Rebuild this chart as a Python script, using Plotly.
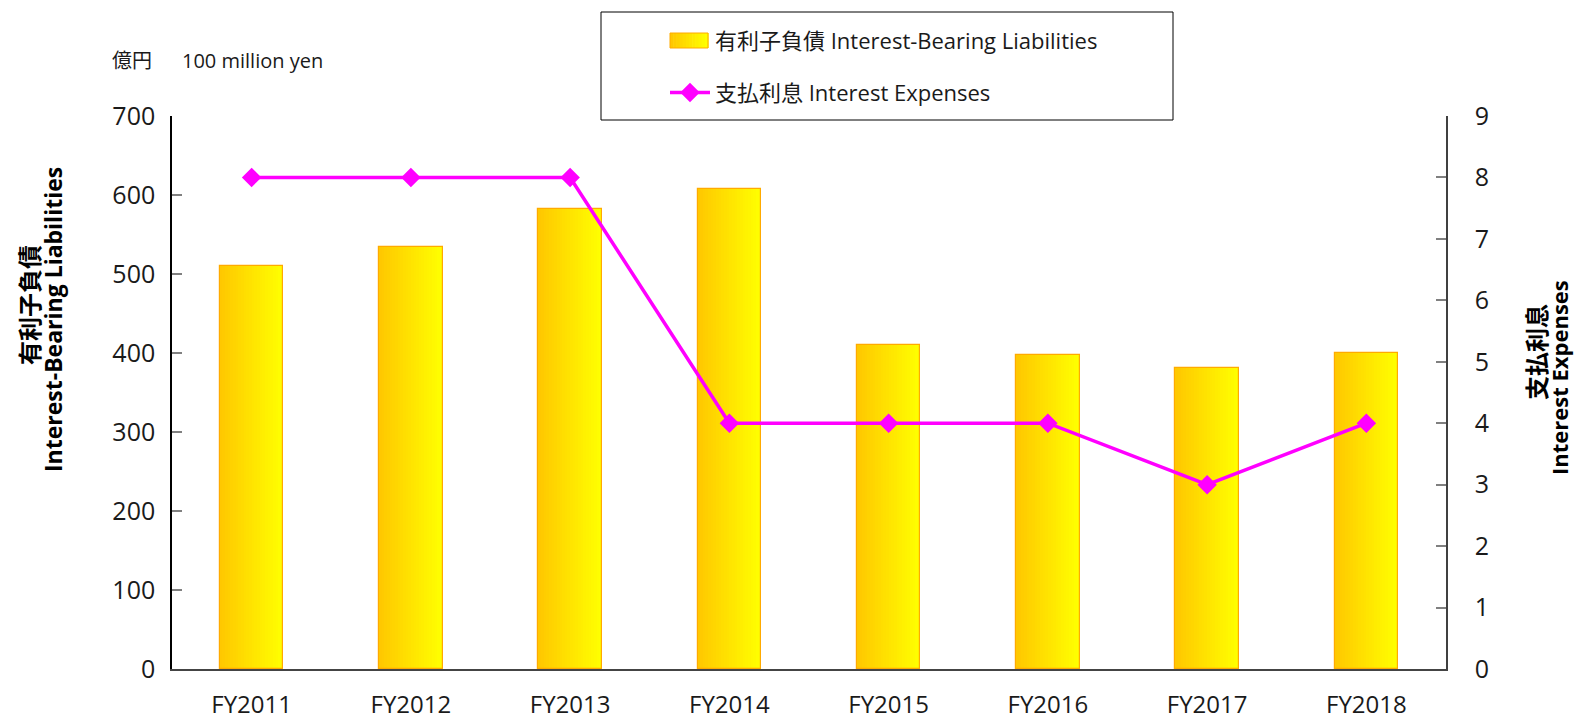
import plotly.graph_objects as go

categories = ["FY2011", "FY2012", "FY2013", "FY2014", "FY2015", "FY2016", "FY2017", "FY2018"]
liabilities = [510, 534, 582, 607, 410, 397, 381, 400]
interest_expenses = [8, 8, 8, 4, 4, 4, 3, 4]

FONT = "Open Sans, Noto Sans CJK JP, sans-serif"
BAR_W = 0.4
N_SLICES = 24
c0 = (255, 200, 0)
c1 = (255, 255, 0)

# plot area in page pixels
PL, PR, PT, PB = 172, 1446, 116, 669
PW, PH = PR - PL, PB - PT


def px_x(x):
    return (x - PL) / PW


def px_y(y):
    return (PB - y) / PH


def grad(t):
    return "rgb({},{},{})".format(*[round(a + (b - a) * t) for a, b in zip(c0, c1)])


fig = go.Figure()

# gradient slices
for i in range(N_SLICES):
    w = BAR_W / N_SLICES
    fig.add_trace(go.Bar(
        x=categories, y=liabilities,
        width=w * (1.15 if i < N_SLICES - 1 else 1.0),
        offset=-BAR_W / 2 + i * w,
        marker=dict(color=grad(i / (N_SLICES - 1)), line=dict(width=0)),
        showlegend=False, hoverinfo="skip",
    ))

# outline
fig.add_trace(go.Bar(
    x=categories, y=liabilities, width=BAR_W,
    marker=dict(color="rgba(0,0,0,0)", line=dict(color="#FFAA00", width=1.2)),
    showlegend=False,
))

# legend entry for bars (swatch drawn as shapes)
fig.add_trace(go.Bar(
    x=categories, y=liabilities, width=BAR_W,
    name="有利子負債 Interest-Bearing Liabilities",
    marker=dict(color="rgba(0,0,0,0)", line=dict(width=0)),
    legendgroup="a", legendrank=1, hoverinfo="skip",
))

fig.add_trace(go.Scatter(
    x=categories, y=interest_expenses, yaxis="y2",
    name="支払利息 Interest Expenses",
    mode="lines+markers",
    line=dict(color="#FF00FF", width=3.5),
    marker=dict(symbol="diamond", size=15, color="#FF00FF"),
    legendgroup="b", legendrank=2,
))

shapes = [dict(
    type="rect", xref="paper", yref="paper",
    x0=px_x(601), x1=px_x(1173), y0=px_y(120), y1=px_y(12),
    line=dict(color="black", width=1), fillcolor="rgba(0,0,0,0)", layer="above",
)]
# gradient legend swatch
SW_X0, SW_X1, SW_Y0, SW_Y1 = 670, 708, 33, 48
n_sw = 12
for i in range(n_sw):
    xa = SW_X0 + (SW_X1 - SW_X0) * i / n_sw
    xb = SW_X0 + (SW_X1 - SW_X0) * (i + 1) / n_sw
    shapes.append(dict(
        type="rect", xref="paper", yref="paper",
        x0=px_x(xa), x1=px_x(xb + 0.6), y0=px_y(SW_Y1), y1=px_y(SW_Y0),
        line=dict(width=0), fillcolor=grad(i / (n_sw - 1)), layer="above",
    ))
shapes.append(dict(
    type="rect", xref="paper", yref="paper",
    x0=px_x(SW_X0), x1=px_x(SW_X1), y0=px_y(SW_Y1), y1=px_y(SW_Y0),
    line=dict(color="#FFAA00", width=1), fillcolor="rgba(0,0,0,0)", layer="above",
))


def vtitle(text, x, y, size=22):
    return dict(text="<b>" + text + "</b>", textangle=-90,
                xref="paper", yref="paper", x=px_x(x), y=px_y(y),
                xanchor="center", yanchor="middle", showarrow=False,
                font=dict(size=size, family=FONT, color="black"))


fig.update_layout(
    width=1575, height=720,
    margin=dict(l=PL, r=1575 - PR, t=PT, b=720 - PB, autoexpand=False),
    paper_bgcolor="white", plot_bgcolor="white",
    barmode="overlay", bargap=0,
    font=dict(family=FONT, color="#1a1a1a"),
    showlegend=True,
    legend=dict(
        x=px_x(665), y=px_y(20),
        xanchor="left", yanchor="top",
        bgcolor="rgba(0,0,0,0)", borderwidth=0,
        font=dict(size=22, family=FONT, color="#1a1a1a"),
        traceorder="grouped", tracegroupgap=20, itemwidth=40,
    ),
    xaxis=dict(
        type="category", showgrid=False, ticks="",
        showline=True, linecolor="#444444", linewidth=1.5,
        tickfont=dict(size=24, family=FONT, color="#1a1a1a"),
        ticklabelstandoff=13,
    ),
    yaxis=dict(
        range=[0, 700], dtick=100, showgrid=False, zeroline=False,
        showline=True, linecolor="black", linewidth=1.5,
        ticks="inside", ticklen=10, tickwidth=2, tickcolor="#808080",
        tickfont=dict(size=25, family=FONT, color="#1a1a1a"),
        ticklabelstandoff=10,
    ),
    yaxis2=dict(
        range=[0, 9], dtick=1, overlaying="y", side="right", anchor="x",
        showgrid=False, zeroline=False,
        showline=True, linecolor="#404040", linewidth=1.5,
        ticks="inside", ticklen=10, tickwidth=2, tickcolor="#808080",
        tickfont=dict(size=25, family=FONT, color="#1a1a1a"),
        ticklabelstandoff=22,
    ),
    shapes=shapes,
    annotations=[
        vtitle("有利子負債", 29, 305, 24),
        vtitle("Interest-Bearing Liabilities", 53, 320, 23),
        vtitle("支払利息", 1536, 352, 24),
        vtitle("Interest Expenses", 1559, 378, 22),
        dict(text="億円", xref="paper", yref="paper",
             x=px_x(110), y=px_y(61),
             xanchor="left", yanchor="middle", showarrow=False,
             font=dict(size=20, family=FONT, color="#1a1a1a")),
        dict(text="100 million yen", xref="paper", yref="paper",
             x=px_x(180), y=px_y(61),
             xanchor="left", yanchor="middle", showarrow=False,
             font=dict(size=20, family=FONT, color="#1a1a1a")),
    ],
)

fig.write_html(
    "out.html",
    config={"displayModeBar": False},
    post_script="document.body.style.margin='0';document.body.style.overflow='hidden';",
)
